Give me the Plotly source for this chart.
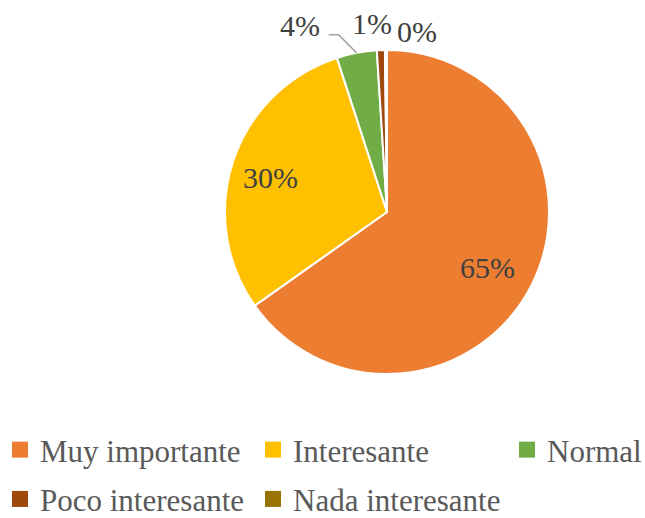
import math
import plotly.graph_objects as go

# Survey answers and their share of responses (%)
categories = ["Muy importante", "Interesante", "Normal", "Poco interesante", "Nada interesante"]
shares = [65.2, 29.8, 4.0, 0.8, 0.2]
colors = ["#ED7D31", "#FFC000", "#70AD47", "#9E480E", "#997300"]

W, H = 645, 518
FONT = "Liberation Serif"

# Pie placement in pixels (centre and radius) -> paper domain
CX, CY, R = 387, 212, 162
dom_x = [(CX - R) / W, (CX + R) / W]
dom_y = [1 - (CY + R) / H, 1 - (CY - R) / H]

total = sum(shares)
pct_text = [f"{round(v / total * 100)}%" for v in shares]

# mid-angle of each slice (degrees clockwise from 12 o'clock)
mid_angles = []
acc = 0.0
for v in shares:
    mid_angles.append((acc + v / 2) / total * 360)
    acc += v


def polar_px(angle, frac):
    a = math.radians(angle)
    return CX + frac * R * math.sin(a), CY - frac * R * math.cos(a)


def to_paper(px, py):
    return px / W, 1 - py / H


fig = go.Figure()
fig.add_trace(go.Pie(
    labels=categories,
    values=shares,
    sort=False,
    direction="clockwise",
    rotation=0,
    marker=dict(colors=colors, line=dict(color="white", width=2)),
    textinfo="none",
    showlegend=False,
    domain=dict(x=dom_x, y=dom_y),
))

annotations = []
label_font = dict(family=FONT, size=30, color="#404040")


def add_label(px, py, text):
    x, y = to_paper(px, py)
    annotations.append(dict(x=x, y=y, xref="paper", yref="paper", text=text,
                            xanchor="center", yanchor="middle",
                            showarrow=False, font=label_font))


# labels placed inside the two large slices
for i, (frac, dx, dy) in [(0, (0.71, -2, 3)), (1, (0.75, -1, 4))]:
    px, py = polar_px(mid_angles[i], frac)
    add_label(px + dx, py + dy, pct_text[i])

# labels for the thin slices, offset from the rim
offsets = {2: (-57, -27), 3: (-9, -27), 4: (31, -19)}
for i, (dx, dy) in offsets.items():
    px, py = polar_px(mid_angles[i], 1.0)
    add_label(px + dx, py + dy, pct_text[i])

# leader line for the "Normal" label
rx, ry = polar_px(mid_angles[2], 1.0)
pts = [(rx, ry), (rx - 18, ry - 18), (rx - 28, ry - 18)]
path = " ".join(("M" if k == 0 else "L") + f" {to_paper(*p)[0]},{to_paper(*p)[1]}"
                for k, p in enumerate(pts))
shapes = [dict(type="path", path=path, xref="paper", yref="paper",
               line=dict(color="#A6A6A6", width=1.5))]

# legend entries laid out in three columns
legend_cols = {0: "legend", 3: "legend", 1: "legend2", 4: "legend2", 2: "legend3"}
for i in [0, 3, 1, 4, 2]:
    fig.add_trace(go.Scatter(
        x=[None], y=[None], mode="markers", name=categories[i],
        marker=dict(symbol="square", size=16, color=colors[i]),
        legend=legend_cols[i], legendgroup=categories[i],
    ))

legend_style = dict(
    orientation="v", yanchor="top", xanchor="left", y=1 - 423 / H,
    font=dict(family=FONT, size=31, color="#595959"),
    bgcolor="rgba(0,0,0,0)", tracegroupgap=6, itemclick=False, itemdoubleclick=False,
)

fig.update_layout(
    width=W, height=H,
    margin=dict(l=0, r=0, t=0, b=0, autoexpand=False),
    paper_bgcolor="white", plot_bgcolor="white",
    xaxis=dict(visible=False), yaxis=dict(visible=False),
    annotations=annotations,
    shapes=shapes,
    legend=dict(x=0 / W, **legend_style),
    legend2=dict(x=253 / W, **legend_style),
    legend3=dict(x=507 / W, **legend_style),
)

fig.write_html("out.html")
